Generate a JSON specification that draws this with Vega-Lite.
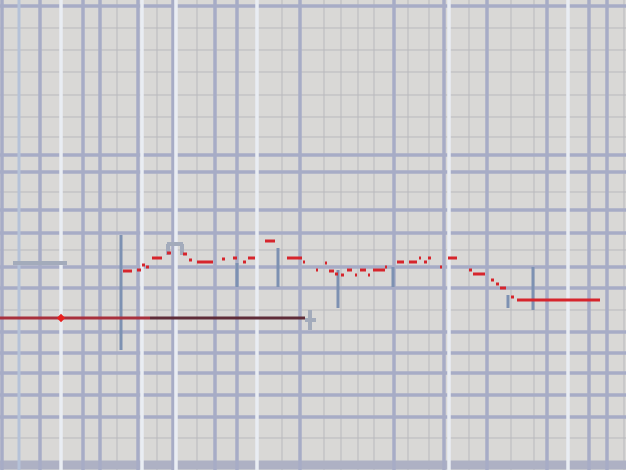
{
  "$schema": "https://vega.github.io/schema/vega-lite/v6.json",
  "width": 626,
  "height": 470,
  "autosize": "none",
  "padding": 0,
  "background": "#d9d8d6",
  "config": {"view": {"stroke": null}},
  "datasets": {
    "thinV": [{"x":117},{"x":157},{"x":197},{"x":282},{"x":324},{"x":341},{"x":358},{"x":374},{"x":408},{"x":429},{"x":469},{"x":511},{"x":534},{"x":624}],
    "thinH": [{"y":28},{"y":50},{"y":72},{"y":95},{"y":117},{"y":137},{"y":192},{"y":250},{"y":310},{"y":438}],
    "thickV": [{"x":2},{"x":40},{"x":83},{"x":100},{"x":138},{"x":173},{"x":215},{"x":237},{"x":300},{"x":394},{"x":444},{"x":487},{"x":547},{"x":589},{"x":607}],
    "paleV": [{"x":19}],
    "whiteV": [{"x":61},{"x":142},{"x":176},{"x":257},{"x":449},{"x":568}],
    "thickH": [{"y":6},{"y":155},{"y":172},{"y":210},{"y":233},{"y":267},{"y":288},{"y":332},{"y":353},{"y":373},{"y":395},{"y":417}],
    "bottom": [{"y":465}],
    "darkV": [{"x":121,"y":235,"y2":350},{"x":237,"y":263,"y2":287},{"x":278,"y":248,"y2":287},{"x":338,"y":270,"y2":308},{"x":393,"y":267,"y2":287},{"x":508,"y":295,"y2":308},{"x":533,"y":267,"y2":310}],
    "grayH": [{"x":13,"x2":67,"y":263},{"x":167,"x2":183,"y":244},{"x":305,"x2":316,"y":320}],
    "grayV": [{"x":168,"y":244,"y2":255},{"x":182,"y":244,"y2":255},{"x":310,"y":310,"y2":330}],
    "redSeg": [
      {"x":123,"x2":132,"y":271},{"x":137,"x2":141,"y":270},{"x":142,"x2":145,"y":265},{"x":146,"x2":149,"y":267},
      {"x":152,"x2":162,"y":258},{"x":167,"x2":171,"y":253},{"x":183,"x2":187,"y":254},{"x":189,"x2":192,"y":260},
      {"x":197,"x2":213,"y":262},{"x":222,"x2":225,"y":259},{"x":233,"x2":237,"y":258},{"x":243,"x2":246,"y":262},
      {"x":248,"x2":255,"y":258},{"x":265,"x2":275,"y":241},{"x":287,"x2":302,"y":258},{"x":303,"x2":305,"y":262},
      {"x":316,"x2":318,"y":270},{"x":325,"x2":327,"y":263},{"x":329,"x2":334,"y":271},{"x":335,"x2":338,"y":274},
      {"x":341,"x2":344,"y":275},{"x":347,"x2":352,"y":270},{"x":355,"x2":357,"y":275},{"x":360,"x2":366,"y":270},
      {"x":368,"x2":370,"y":275},{"x":373,"x2":385,"y":270},{"x":385,"x2":387,"y":267},{"x":397,"x2":404,"y":262},
      {"x":409,"x2":417,"y":262},{"x":419,"x2":421,"y":258},{"x":424,"x2":427,"y":262},{"x":428,"x2":431,"y":258},
      {"x":440,"x2":442,"y":267},{"x":448,"x2":457,"y":258},{"x":469,"x2":472,"y":270},{"x":473,"x2":485,"y":274},
      {"x":491,"x2":494,"y":280},{"x":496,"x2":499,"y":284},{"x":500,"x2":506,"y":288},{"x":511,"x2":514,"y":297},
      {"x":517,"x2":600,"y":300}
    ],
    "redLineA": [{"x":0,"x2":150,"y":318}],
    "redLineB": [{"x":150,"x2":305,"y":318}],
    "dot": [{"x":61,"y":318}]
  },
  "layer": [
    {"data": {"name": "thinV"}, "mark": {"type": "rule", "color": "#b9b9bd", "strokeWidth": 1},
     "encoding": {"x": {"field": "x", "type": "quantitative", "scale": {"domain": [0, 626], "nice": false, "zero": false}, "axis": null}}},
    {"data": {"name": "thinH"}, "mark": {"type": "rule", "color": "#b9b9bd", "strokeWidth": 1},
     "encoding": {"y": {"field": "y", "type": "quantitative", "scale": {"domain": [470, 0], "nice": false, "zero": false}, "axis": null}}},
    {"data": {"name": "thickH"}, "mark": {"type": "rule", "color": "#a7acc6", "strokeWidth": 3.5},
     "encoding": {"y": {"field": "y", "type": "quantitative", "axis": null}}},
    {"data": {"name": "bottom"}, "mark": {"type": "rule", "color": "#aeb1c4", "strokeWidth": 9},
     "encoding": {"y": {"field": "y", "type": "quantitative", "axis": null}}},
    {"data": {"name": "thickV"}, "mark": {"type": "rule", "color": "#a7acc6", "strokeWidth": 3.5},
     "encoding": {"x": {"field": "x", "type": "quantitative", "axis": null}}},
    {"data": {"name": "paleV"}, "mark": {"type": "rule", "color": "#b5c2d8", "strokeWidth": 3},
     "encoding": {"x": {"field": "x", "type": "quantitative", "axis": null}}},
    {"data": {"name": "whiteV"}, "mark": {"type": "rule", "color": "#e9edf3", "strokeWidth": 3.5},
     "encoding": {"x": {"field": "x", "type": "quantitative", "axis": null}}},
    {"data": {"name": "grayH"}, "mark": {"type": "rule", "color": "#a3abbb", "strokeWidth": 4},
     "encoding": {"x": {"field": "x", "type": "quantitative", "axis": null}, "x2": {"field": "x2"}, "y": {"field": "y", "type": "quantitative", "axis": null}}},
    {"data": {"name": "grayV"}, "mark": {"type": "rule", "color": "#a3abbb", "strokeWidth": 4},
     "encoding": {"x": {"field": "x", "type": "quantitative", "axis": null}, "y": {"field": "y", "type": "quantitative", "axis": null}, "y2": {"field": "y2"}}},
    {"data": {"name": "darkV"}, "mark": {"type": "rule", "color": "#7d91b2", "strokeWidth": 3},
     "encoding": {"x": {"field": "x", "type": "quantitative", "axis": null}, "y": {"field": "y", "type": "quantitative", "axis": null}, "y2": {"field": "y2"}}},
    {"data": {"name": "redLineA"}, "mark": {"type": "rule", "color": "#a8303d", "strokeWidth": 3},
     "encoding": {"x": {"field": "x", "type": "quantitative", "axis": null}, "x2": {"field": "x2"}, "y": {"field": "y", "type": "quantitative", "axis": null}}},
    {"data": {"name": "redLineB"}, "mark": {"type": "rule", "color": "#5f2c38", "strokeWidth": 3},
     "encoding": {"x": {"field": "x", "type": "quantitative", "axis": null}, "x2": {"field": "x2"}, "y": {"field": "y", "type": "quantitative", "axis": null}}},
    {"data": {"name": "redSeg"}, "mark": {"type": "rule", "color": "#d6252c", "strokeWidth": 3},
     "encoding": {"x": {"field": "x", "type": "quantitative", "axis": null}, "x2": {"field": "x2"}, "y": {"field": "y", "type": "quantitative", "axis": null}}},
    {"data": {"name": "dot"}, "mark": {"type": "point", "shape": "diamond", "filled": true, "color": "#e8201e", "size": 70, "opacity": 1},
     "encoding": {"x": {"field": "x", "type": "quantitative", "axis": null}, "y": {"field": "y", "type": "quantitative", "axis": null}}}
  ]
}
